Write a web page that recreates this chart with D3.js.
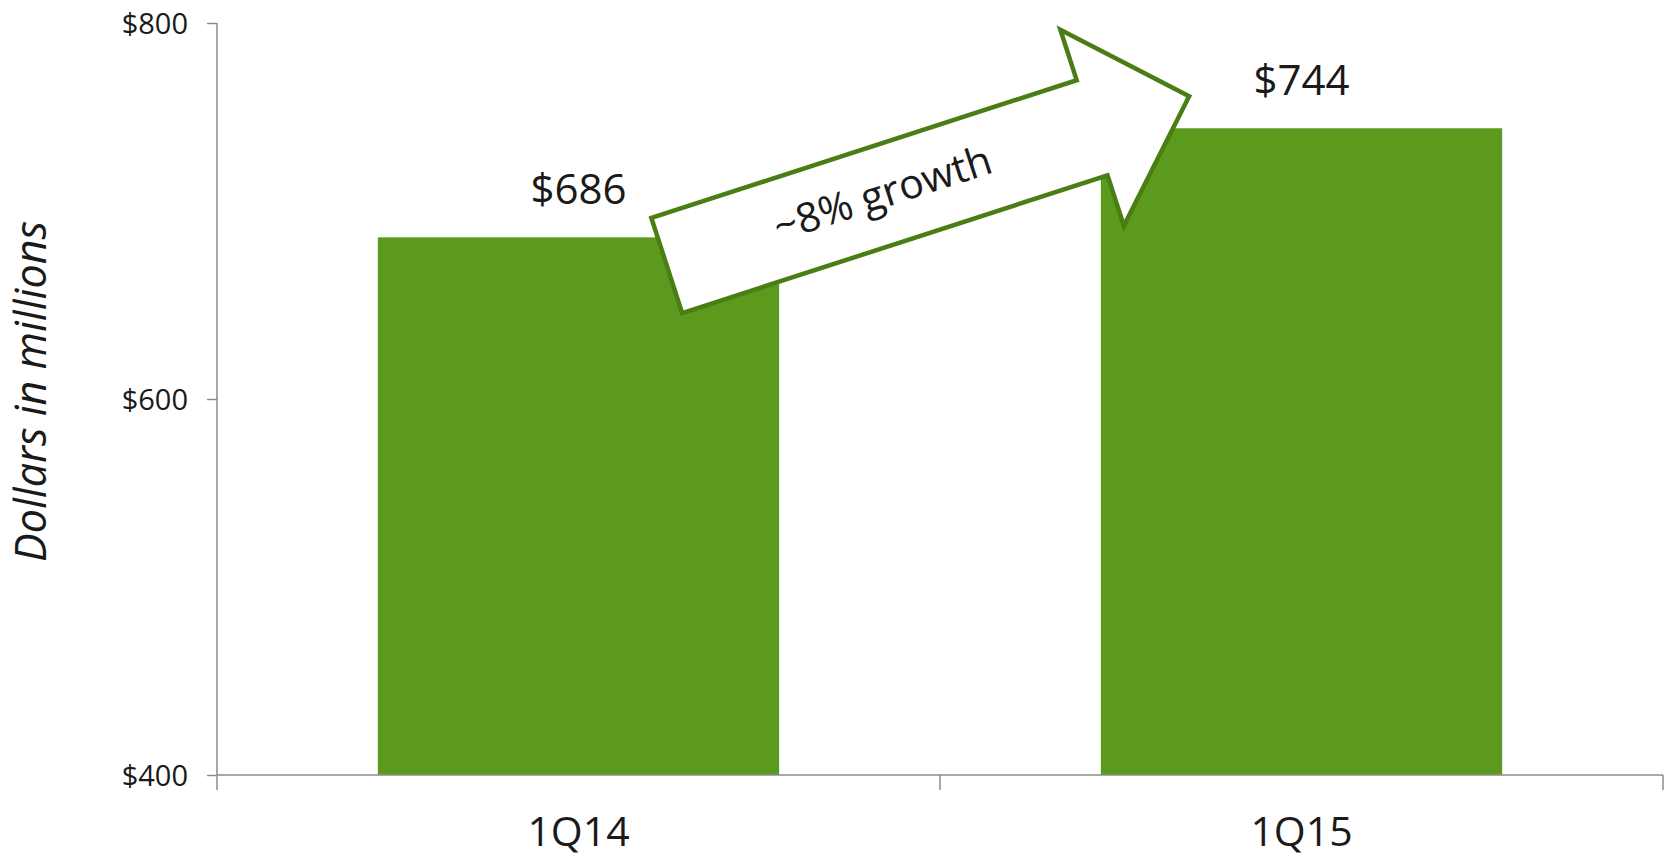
<!DOCTYPE html>
<html>
<head>
<meta charset="utf-8">
<title>Dollars in millions, 1Q14 vs 1Q15</title>
<script src="https://d3js.org/d3.v7.min.js"></script>
<style>
  html, body { margin: 0; padding: 0; background: #fff; }
  svg { display: block; font-family: "Open Sans", "Noto Sans", sans-serif; }
  .tick-label { font-family: "Open Sans", "Noto Sans", sans-serif; font-size: 29px; fill: #1a1a1a; }
  .cat-label { font-size: 41px; fill: #1a1a1a; }
  .value-label { font-size: 42px; fill: #1a1a1a; }
</style>
</head>
<body>
<div id="chart"></div>
<script>
// data
const categories = ["1Q14", "1Q15"];
const revenue = [686, 744];
const valueLabels = ["$686", "$744"];
const yTicks = [400, 600, 800];
const yTickLabels = ["$400", "$600", "$800"];
const yTitle = "Dollars in millions";
const growthLabel = "~8% growth";
// arrow anchors in data terms: category, fraction across the bar, value
const arrowFrom = { cat: "1Q14", at: 0.72, value: 671 };
const arrowTo = { cat: "1Q15", at: 0.22, value: 761 };

const width = 1669, height = 858;
const margin = { top: 23, right: 6, bottom: 83, left: 217 };

const svg = d3.select("#chart").append("svg")
    .attr("width", width)
    .attr("height", height);

const x = d3.scaleBand()
    .domain(categories)
    .range([margin.left, width - margin.right])
    .paddingInner(0.445)
    .paddingOuter(0.2225);

const y = d3.scaleLinear()
    .domain([400, 800])
    .range([height - margin.bottom, margin.top]);

const axisColor = "#8c8c8c";

// bars
svg.selectAll("rect.bar")
    .data(categories)
    .enter()
    .append("rect")
    .attr("class", "bar")
    .attr("x", d => x(d))
    .attr("y", (d, i) => y(revenue[i]))
    .attr("width", x.bandwidth())
    .attr("height", (d, i) => y(400) - y(revenue[i]))
    .attr("fill", "#5c9a1d");

// value labels
svg.selectAll("text.value-label")
    .data(categories)
    .enter()
    .append("text")
    .attr("class", "value-label")
    .attr("x", d => x(d) + x.bandwidth() / 2)
    .attr("y", (d, i) => y(revenue[i]) - 33)
    .attr("text-anchor", "middle")
    .text((d, i) => valueLabels[i]);

// y axis
const yAxis = d3.axisLeft(y)
    .tickValues(yTicks)
    .tickFormat((d, i) => yTickLabels[i])
    .tickSize(10)
    .tickPadding(19);

const gy = svg.append("g")
    .attr("transform", `translate(${margin.left},0)`)
    .call(yAxis)
    .attr("font-family", null)
    .attr("font-size", null);
gy.select(".domain").remove();
gy.selectAll(".tick line").attr("stroke", axisColor).attr("stroke-width", 1.5);
gy.selectAll(".tick text")
    .attr("class", "tick-label")
    .attr("dy", "0.36em");
svg.append("line")
    .attr("x1", margin.left).attr("x2", margin.left)
    .attr("y1", y(800)).attr("y2", y(400) + 15)
    .attr("stroke", axisColor).attr("stroke-width", 1.5);

// x axis: ticks sit on the band boundaries
const step = x.step();
const bounds = [margin.left, margin.left + step, width - margin.right];
svg.append("line")
    .attr("x1", margin.left).attr("x2", width - margin.right)
    .attr("y1", y(400)).attr("y2", y(400))
    .attr("stroke", axisColor).attr("stroke-width", 1.5);
svg.selectAll("line.xtick")
    .data(bounds.slice(1))
    .enter()
    .append("line")
    .attr("class", "xtick")
    .attr("x1", d => d).attr("x2", d => d)
    .attr("y1", y(400)).attr("y2", y(400) + 15)
    .attr("stroke", axisColor).attr("stroke-width", 1.5);

svg.selectAll("text.cat-label")
    .data(categories)
    .enter()
    .append("text")
    .attr("class", "cat-label")
    .attr("x", d => x(d) + x.bandwidth() / 2)
    .attr("y", y(400) + 71)
    .attr("text-anchor", "middle")
    .text(d => d);

// y title
svg.append("text")
    .attr("transform", `translate(46,${y(604)}) rotate(-90)`)
    .attr("text-anchor", "middle")
    .attr("font-size", 43)
    .attr("font-style", "italic")
    .attr("fill", "#1a1a1a")
    .text(yTitle);

// growth arrow
const p0 = [x(arrowFrom.cat) + arrowFrom.at * x.bandwidth(), y(arrowFrom.value)];
const p1 = [x(arrowTo.cat) + arrowTo.at * x.bandwidth(), y(arrowTo.value)];
const len = Math.hypot(p1[0] - p0[0], p1[1] - p0[1]);
const ang = Math.atan2(p1[1] - p0[1], p1[0] - p0[0]) * 180 / Math.PI;
const shaftHalf = 50, headLen = 102, headHalf = 103;

const arrow = svg.append("g")
    .attr("transform", `translate(${p0[0]},${p0[1]}) rotate(${ang})`);

const shape = d3.path();
shape.moveTo(0, -shaftHalf);
shape.lineTo(len - headLen, -shaftHalf);
shape.lineTo(len - headLen, -headHalf);
shape.lineTo(len, 0);
shape.lineTo(len - headLen, headHalf);
shape.lineTo(len - headLen, shaftHalf);
shape.lineTo(0, shaftHalf);
shape.closePath();

arrow.append("path")
    .attr("d", shape.toString())
    .attr("fill", "#fff")
    .attr("stroke", "#4a7d14")
    .attr("stroke-width", 4.5)
    .attr("stroke-linejoin", "miter");

arrow.append("text")
    .attr("x", (len - headLen) / 2 + 4)
    .attr("y", -4)
    .attr("text-anchor", "middle")
    .attr("dominant-baseline", "central")
    .attr("font-size", 41)
    .attr("fill", "#1a1a1a")
    .text(growthLabel);
</script>
</body>
</html>
